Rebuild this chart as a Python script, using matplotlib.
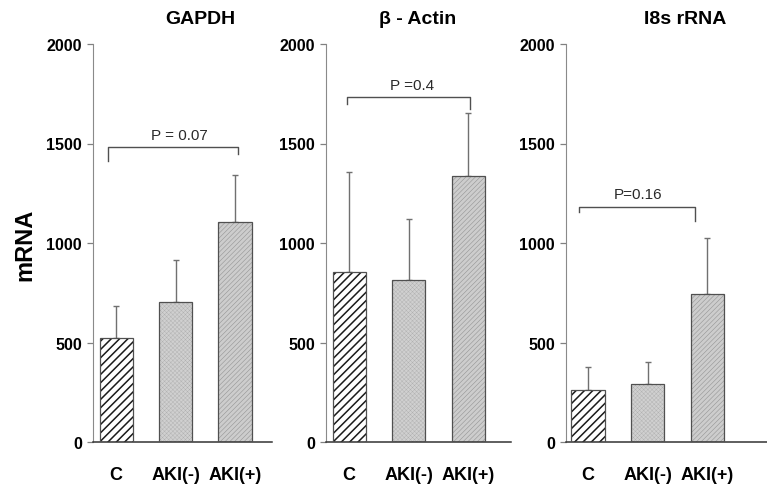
import matplotlib
matplotlib.use('Agg')
import matplotlib.pyplot as plt

groups = ['C', 'AKI(-)', 'AKI(+)']
titles = ['GAPDH', 'β - Actin', 'I8s rRNA']
means = [[523, 703, 1105], [854, 814, 1337], [261, 291, 744]]
sds = [[160, 212, 237], [503, 306, 316], [116, 111, 281]]
p_labels = ['P = 0.07', 'P =0.4', 'P=0.16']
yticks = [0, 500, 1000, 1500, 2000]

W, H = 767, 485
# axes left/right in px, xlim, title centre px
panels = [(93, 272, (-0.39, 2.62), 200),
          (326, 511, (-0.39, 2.72), 418),
          (566, 767, (-0.37, 3.0), 685)]
# bracket x0, x1, top, left drop, right drop, text x, text y
brackets = [(-0.13, 2.05, 1482, 1412, 1447, 1.07, 1543),
            (-0.03, 2.03, 1735, 1700, 1675, 1.06, 1795),
            (-0.15, 1.80, 1180, 1155, 1110, 0.83, 1245)]

face = ['white', '#d0d0d0', '#cdcdcd']
hatch = ['////', 'xxxxxxxx', '///////']
hcol = ['#1a1a1a', '#b0b0b0', '#959595']
hlw = [1.1, 0.3, 0.4]

plt.rcParams['font.family'] = ['Liberation Sans', 'DejaVu Sans']
fig = plt.figure(figsize=(W / 100, H / 100), dpi=100)

for i, (l, r, xl, tx) in enumerate(panels):
    ax = fig.add_axes([l / W, (H - 443) / H, (r - l) / W, 398 / H])
    x = list(range(len(groups)))
    for j in x:
        b = ax.bar(j, means[i][j], width=0.56, color=face[j], hatch=hatch[j],
                   edgecolor=hcol[j], linewidth=0, zorder=2)[0]
        if hasattr(b, 'set_hatch_linewidth'):
            b.set_hatch_linewidth(hlw[j])
        ax.bar(j, means[i][j], width=0.56, fill=False, edgecolor='#505050',
               linewidth=0.9, zorder=3)
    ax.errorbar(x, means[i], yerr=[[0] * 3, sds[i]], fmt='none',
                ecolor='#707070', elinewidth=1.0, capsize=2, capthick=1.0, zorder=1)

    bx0, bx1, by, d0, d1, ptx, pty = brackets[i]
    ax.plot([bx0, bx0, bx1, bx1], [d0, by, by, d1], color='#505050', lw=1.0)
    ax.text(ptx, pty, p_labels[i], ha='center', va='center', fontsize=11,
            color='#2a2a2a')

    ax.set_xlim(*xl)
    ax.set_ylim(0, 2000)
    ax.set_yticks(yticks)
    ax.set_yticklabels([str(v) for v in yticks], fontsize=11.5, fontweight='bold')
    ax.set_xticks(x)
    ax.set_xticklabels(groups, fontsize=13, fontweight='bold')
    ax.tick_params(axis='x', length=0, pad=17)
    ax.tick_params(axis='y', length=4, width=0.9, color='#808080', pad=4)
    for s in ['top', 'right']:
        ax.spines[s].set_visible(False)
    ax.spines['left'].set_color('#8a8a8a')
    ax.spines['bottom'].set_color('#333333')
    ax.spines['bottom'].set_linewidth(1.1)
    ax.patch.set_alpha(0)

    fig.text(tx / W, 1 - 20 / H, titles[i], ha='center', va='center',
             fontsize=14, fontweight='bold')

fig.text(25 / W, 1 - 245 / H, 'mRNA', rotation=90, ha='center', va='center',
         fontsize=17, fontweight='bold')

fig.savefig('out.png', dpi=100)
